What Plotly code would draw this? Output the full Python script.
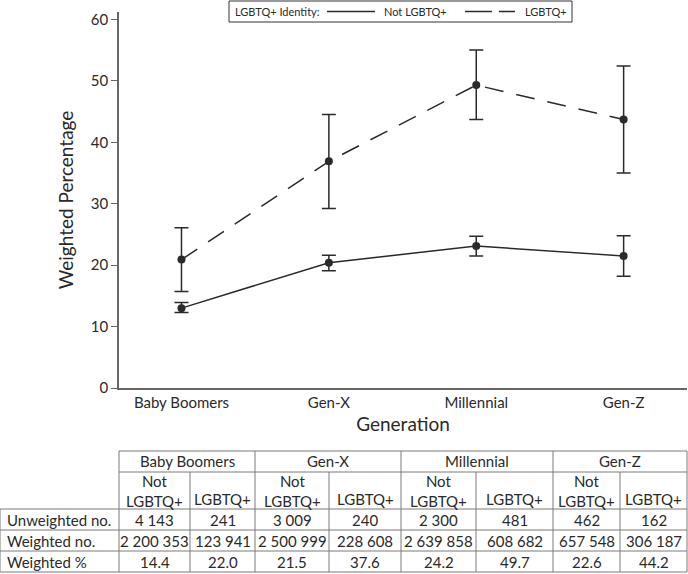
import plotly.graph_objects as go

# ---------------- data ----------------
generations = ["Baby Boomers", "Gen-X", "Millennial", "Gen-Z"]

not_lgbtq = [13.0, 20.4, 23.1, 21.5]
not_lgbtq_upper = [13.9, 21.6, 24.7, 24.8]
not_lgbtq_lower = [12.3, 19.1, 21.5, 18.2]

lgbtq = [20.9, 36.9, 49.3, 43.7]
lgbtq_upper = [26.1, 44.5, 55.0, 52.4]
lgbtq_lower = [15.7, 29.2, 43.7, 35.0]

y_ticks = [0, 10, 20, 30, 40, 50, 60]

legend_title = "LGBTQ+ Identity:"
series_names = ["Not LGBTQ+", "LGBTQ+"]

sub_headers = ["Not<br>LGBTQ+", "LGBTQ+"]
row_labels = ["Unweighted no.", "Weighted no.", "Weighted %"]
unweighted_no = [["4 143", "241"], ["3 009", "240"], ["2 300", "481"], ["462", "162"]]
weighted_no = [["2 200 353", "123 941"], ["2 500 999", "228 608"],
               ["2 639 858", "608 682"], ["657 548", "306 187"]]
weighted_pct = [["14.4", "22.0"], ["21.5", "37.6"], ["24.2", "49.7"], ["22.6", "44.2"]]

# ---------------- layout geometry ----------------
W, H = 688, 574
ML, MR, MT, MB = 119, 1, 12, 186
PW = W - ML - MR
PH = H - MT - MB

def px(x):
    return (x - ML) / PW

def py(y):
    return (H - MB - y) / PH

FONT = "Lato"
INK = "#2a2a2a"
GRID = "#7a7a7a"
DASH = "19px,13px"
TABLE_SIZE = 15

fig = go.Figure()

def err(vals, up, lo):
    return dict(type="data", symmetric=False,
                array=[u - v for u, v in zip(up, vals)],
                arrayminus=[v - l for v, l in zip(vals, lo)],
                color=INK, thickness=1.5, width=7)

fig.add_trace(go.Scatter(
    x=generations, y=not_lgbtq, mode="lines+markers", showlegend=False,
    name=series_names[0],
    line=dict(color=INK, width=1.5),
    marker=dict(color=INK, size=8),
    error_y=err(not_lgbtq, not_lgbtq_upper, not_lgbtq_lower)))

fig.add_trace(go.Scatter(
    x=generations, y=lgbtq, mode="lines+markers", showlegend=False,
    name=series_names[1],
    line=dict(color=INK, width=1.5, dash=DASH),
    marker=dict(color=INK, size=8),
    error_y=err(lgbtq, lgbtq_upper, lgbtq_lower)))

shapes = []
annotations = []

def hline(y, x0, x1, color=GRID, width=1, dash=None):
    ln = dict(color=color, width=width)
    if dash:
        ln["dash"] = dash
    shapes.append(dict(type="line", xref="paper", yref="paper",
                       x0=px(x0), x1=px(x1), y0=py(y), y1=py(y), line=ln))

def vline(x, y0, y1):
    shapes.append(dict(type="line", xref="paper", yref="paper",
                       x0=px(x), x1=px(x), y0=py(y0), y1=py(y1),
                       line=dict(color=GRID, width=1)))

def text(t, x, y, xanchor="center", size=TABLE_SIZE):
    annotations.append(dict(text=t, xref="paper", yref="paper",
                            x=px(x), y=py(y), xanchor=xanchor, yanchor="middle",
                            showarrow=False,
                            font=dict(family=FONT, size=size, color=INK)))

# ---------------- legend (boxed, top centre) ----------------
LG_Y = 11.5
LG_SIZE = 11
shapes.append(dict(type="rect", xref="paper", yref="paper",
                   x0=px(229), x1=px(572), y0=py(1), y1=py(22),
                   line=dict(color="#333", width=1), fillcolor="white"))
text(legend_title, 233, LG_Y, "left", LG_SIZE)
hline(LG_Y, 327, 375, INK, 1.5)
text(series_names[0], 382, LG_Y, "left", LG_SIZE)
hline(LG_Y, 465, 515, INK, 1.5, "27px,7px")
text(series_names[1], 523, LG_Y, "left", LG_SIZE)

# ---------------- table ----------------
col_edges = [0, 119, 190, 255, 329, 401, 476, 553, 620, 687]
row_edges = [451, 472, 509, 530, 551, 572]

hline(row_edges[0], col_edges[1], col_edges[-1])
hline(row_edges[1], col_edges[1], col_edges[-1])
for y in row_edges[2:]:
    hline(y, col_edges[0], col_edges[-1])
vline(col_edges[0], row_edges[2], row_edges[-1])
for i, x in enumerate(col_edges[1:]):
    if i % 2 == 0:
        vline(x, row_edges[0], row_edges[-1])
    else:
        vline(x, row_edges[1], row_edges[-1])

for g, name in enumerate(generations):
    text(name, (col_edges[1 + 2 * g] + col_edges[3 + 2 * g]) / 2,
         (row_edges[0] + row_edges[1]) / 2)
    for s in range(2):
        cx = (col_edges[1 + 2 * g + s] + col_edges[2 + 2 * g + s]) / 2
        cy = (row_edges[1] + row_edges[2]) / 2 if s == 0 else row_edges[2] - 10
        text(sub_headers[s], cx, cy)

rows = [unweighted_no, weighted_no, weighted_pct]
for r, label in enumerate(row_labels):
    cy = (row_edges[2 + r] + row_edges[3 + r]) / 2
    text(label, col_edges[0] + 5, cy, "left")
    for g in range(len(generations)):
        for s in range(2):
            cx = (col_edges[1 + 2 * g + s] + col_edges[2 + 2 * g + s]) / 2
            text(rows[r][g][s], cx, cy)

fig.update_layout(
    width=W, height=H,
    margin=dict(l=ML, r=MR, t=MT, b=MB, pad=0),
    paper_bgcolor="white", plot_bgcolor="white",
    font=dict(family=FONT, color=INK),
    showlegend=False,
    shapes=shapes, annotations=annotations,
    xaxis=dict(range=[-0.424, 3.43], showgrid=False, zeroline=False,
               showline=True, linecolor="#666", linewidth=1.5, ticks="",
               tickfont=dict(size=15, family=FONT, color=INK),
               title=dict(text="Generation", font=dict(size=19, family=FONT, color=INK),
                          standoff=8)),
    yaxis=dict(range=[0, 61.2], tickvals=y_ticks, showgrid=False, zeroline=False,
               showline=True, linecolor="#666", linewidth=1.5, ticks="outside",
               ticklen=6, tickcolor="#666", tickwidth=1.2,
               tickfont=dict(size=15, family=FONT, color=INK),
               title=dict(text="Weighted Percentage", font=dict(size=19, family=FONT, color=INK),
                          standoff=12)),
)

fig.write_html("out.html", config={"displayModeBar": False},
               post_script="document.body.style.margin='0';")
